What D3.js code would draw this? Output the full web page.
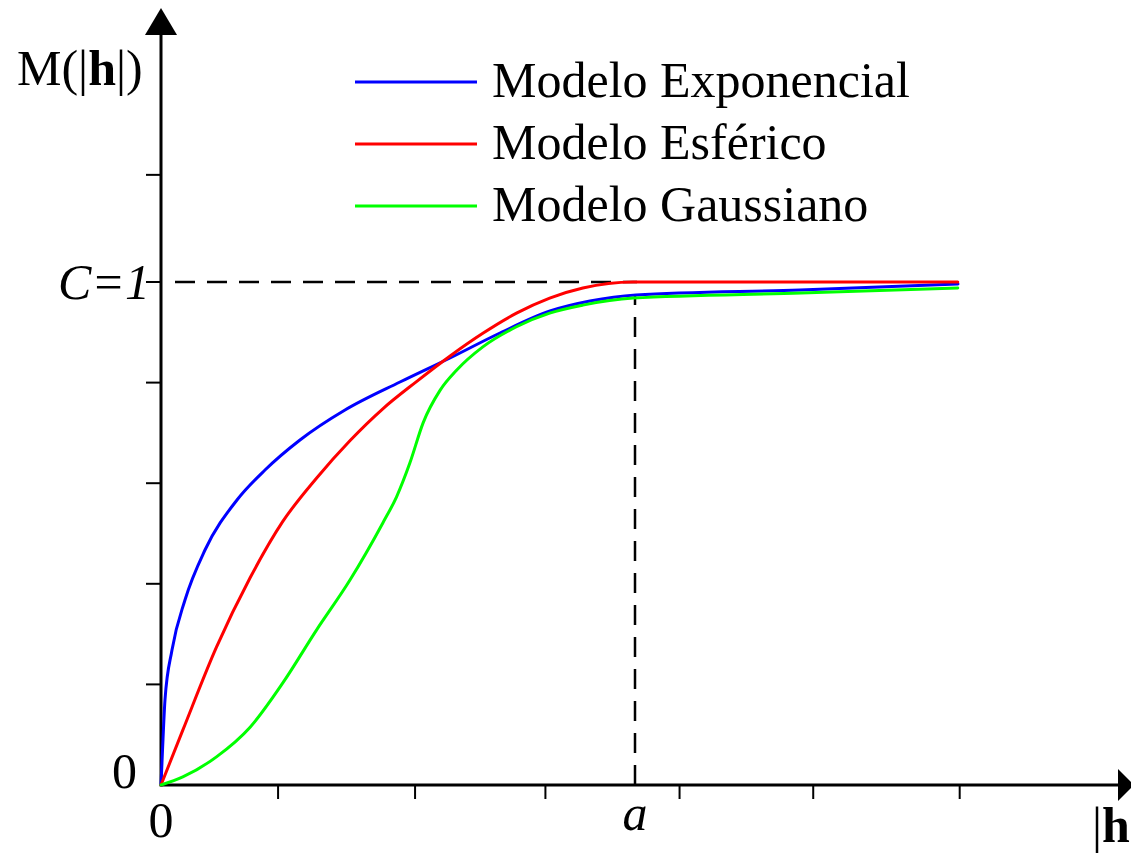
<!DOCTYPE html>
<html>
<head>
<meta charset="utf-8">
<script src="https://cdn.jsdelivr.net/npm/d3@7"></script>
<style>
  html, body { margin: 0; padding: 0; background: #fff; }
  svg { display: block; }
  text { font-family: "Liberation Serif", "Times New Roman", serif; fill: #000; }
</style>
</head>
<body>
<svg id="chart" width="1131" height="853"></svg>
<script>
// Semivariogram models: lag |h| (in units of the range a) against M(|h|) (in units of the sill C)
const lagExp = [0, 0.0032, 0.0084, 0.0232, 0.0506, 0.0928, 0.1603, 0.2194, 0.2932, 0.3882, 0.5042, 0.6097, 0.7152, 0.8207, 0.9051, 1.0021, 1.3481, 1.6814];
const valExp = [0, 0.0696, 0.169, 0.2684, 0.3678, 0.4672, 0.5666, 0.6262, 0.6859, 0.7455, 0.8012, 0.8489, 0.8986, 0.9423, 0.9622, 0.9742, 0.9841, 0.996];

const lagSph = [0, 0.046, 0.117, 0.188, 0.257, 0.328, 0.399, 0.468, 0.539, 0.61, 0.679, 0.75, 0.82, 0.89, 0.996, 1.35, 1.681];
const valSph = [0, 0.109, 0.274, 0.412, 0.524, 0.610, 0.685, 0.748, 0.802, 0.853, 0.898, 0.938, 0.968, 0.988, 1.0, 1.0, 1.0];

const lagGau = [0, 0.046, 0.117, 0.188, 0.257, 0.328, 0.399, 0.468, 0.497, 0.525, 0.553, 0.589, 0.624, 0.679, 0.75, 0.82, 0.89, 0.996, 1.35, 1.681];
const valGau = [0, 0.016, 0.056, 0.115, 0.203, 0.308, 0.408, 0.521, 0.573, 0.640, 0.720, 0.785, 0.825, 0.871, 0.911, 0.938, 0.954, 0.968, 0.978, 0.988];

const seriesNames = ["Modelo Exponencial", "Modelo Esférico", "Modelo Gaussiano"];
const seriesColors = ["#0000ff", "#ff0000", "#00ff00"];

const yTicks = [0.2, 0.4, 0.6, 0.8, 1, 1.213];
const xTicks = [0.247, 0.536, 0.811, 1.094, 1.376, 1.685];
const rangeA = 1;   // range a
const sillC = 1;    // sill C

const svg = d3.select("#chart");

const x = d3.scaleLinear().domain([0, 1]).range([161, 635]);
const y = d3.scaleLinear().domain([0, 1]).range([785, 282]);

const x0 = x(0), y0 = y(0);
const xEnd = 1118, yTop = 35;

// Dashed guides at the sill and the range
svg.append("line")
  .attr("x1", x0 + 14).attr("x2", x(rangeA) + 2)
  .attr("y1", y(sillC)).attr("y2", y(sillC))
  .attr("stroke", "#000").attr("stroke-width", 2.5)
  .attr("stroke-dasharray", "20,12");
svg.append("line")
  .attr("x1", x(rangeA)).attr("x2", x(rangeA))
  .attr("y1", y0).attr("y2", 294)
  .attr("stroke", "#000").attr("stroke-width", 2.5)
  .attr("stroke-dasharray", "20,12");

// Axes
const axisG = svg.append("g");
axisG.append("line").attr("x1", x0).attr("x2", xEnd).attr("y1", y0).attr("y2", y0)
  .attr("stroke", "#000").attr("stroke-width", 3);
axisG.append("line").attr("x1", x0).attr("x2", x0).attr("y1", y0 + 1.5).attr("y2", yTop)
  .attr("stroke", "#000").attr("stroke-width", 3);
// arrow heads
axisG.append("path")
  .attr("d", `M${x0 - 16},${yTop} L${x0 + 16},${yTop} L${x0},8 Z`).attr("fill", "#000");
axisG.append("path")
  .attr("d", `M${xEnd},${y0 - 16} L${xEnd},${y0 + 16} L1134,${y0} Z`).attr("fill", "#000");

// ticks
axisG.selectAll(".ytick").data(yTicks).join("line")
  .attr("class", "ytick")
  .attr("x1", x0 - 15).attr("x2", x0)
  .attr("y1", d => y(d)).attr("y2", d => y(d))
  .attr("stroke", "#000").attr("stroke-width", 2);
axisG.selectAll(".xtick").data(xTicks).join("line")
  .attr("class", "xtick")
  .attr("x1", d => x(d)).attr("x2", d => x(d))
  .attr("y1", y0).attr("y2", y0 + 14)
  .attr("stroke", "#000").attr("stroke-width", 2);

// Curves
const line = d3.line()
  .x(d => x(d[0]))
  .y(d => y(d[1]))
  .curve(d3.curveMonotoneX);

const series = [
  d3.zip(lagExp, valExp),
  d3.zip(lagSph, valSph),
  d3.zip(lagGau, valGau)
];

svg.append("g").selectAll("path").data(series).join("path")
  .attr("d", line)
  .attr("fill", "none")
  .attr("stroke", (d, i) => seriesColors[i])
  .attr("stroke-width", 3)
  .attr("stroke-linejoin", "round")
  .attr("stroke-linecap", "round");

// Legend
const legend = svg.append("g");
const rows = legend.selectAll("g").data(seriesNames).join("g")
  .attr("transform", (d, i) => `translate(0, ${82 + i * 62})`);
rows.append("line")
  .attr("x1", 355).attr("x2", 477).attr("y1", 0).attr("y2", 0)
  .attr("stroke", (d, i) => seriesColors[i]).attr("stroke-width", 3);
rows.append("text")
  .attr("x", 492).attr("y", 15)
  .attr("font-size", 50)
  .text(d => d);

// Axis labels
const yLab = svg.append("text").attr("x", 17).attr("y", 85).attr("font-size", 50);
yLab.append("tspan").text("M(|");
yLab.append("tspan").attr("font-weight", "bold").text("h");
yLab.append("tspan").text("|)");

svg.append("text").attr("x", 150).attr("y", y(sillC) + 17)
  .attr("font-size", 50).attr("font-style", "italic").attr("text-anchor", "end")
  .text("C=1");

svg.append("text").attr("x", 137).attr("y", y0 + 3)
  .attr("font-size", 50).attr("text-anchor", "end").text("0");
svg.append("text").attr("x", x0).attr("y", y0 + 52)
  .attr("font-size", 50).attr("text-anchor", "middle").text("0");

svg.append("text").attr("x", x(rangeA)).attr("y", y0 + 45)
  .attr("font-size", 50).attr("font-style", "italic").attr("text-anchor", "middle").text("a");

const hLab = svg.append("text").attr("x", 1092).attr("y", y0 + 57).attr("font-size", 50);
hLab.append("tspan").text("|");
hLab.append("tspan").attr("font-weight", "bold").text("h");
</script>
</body>
</html>
